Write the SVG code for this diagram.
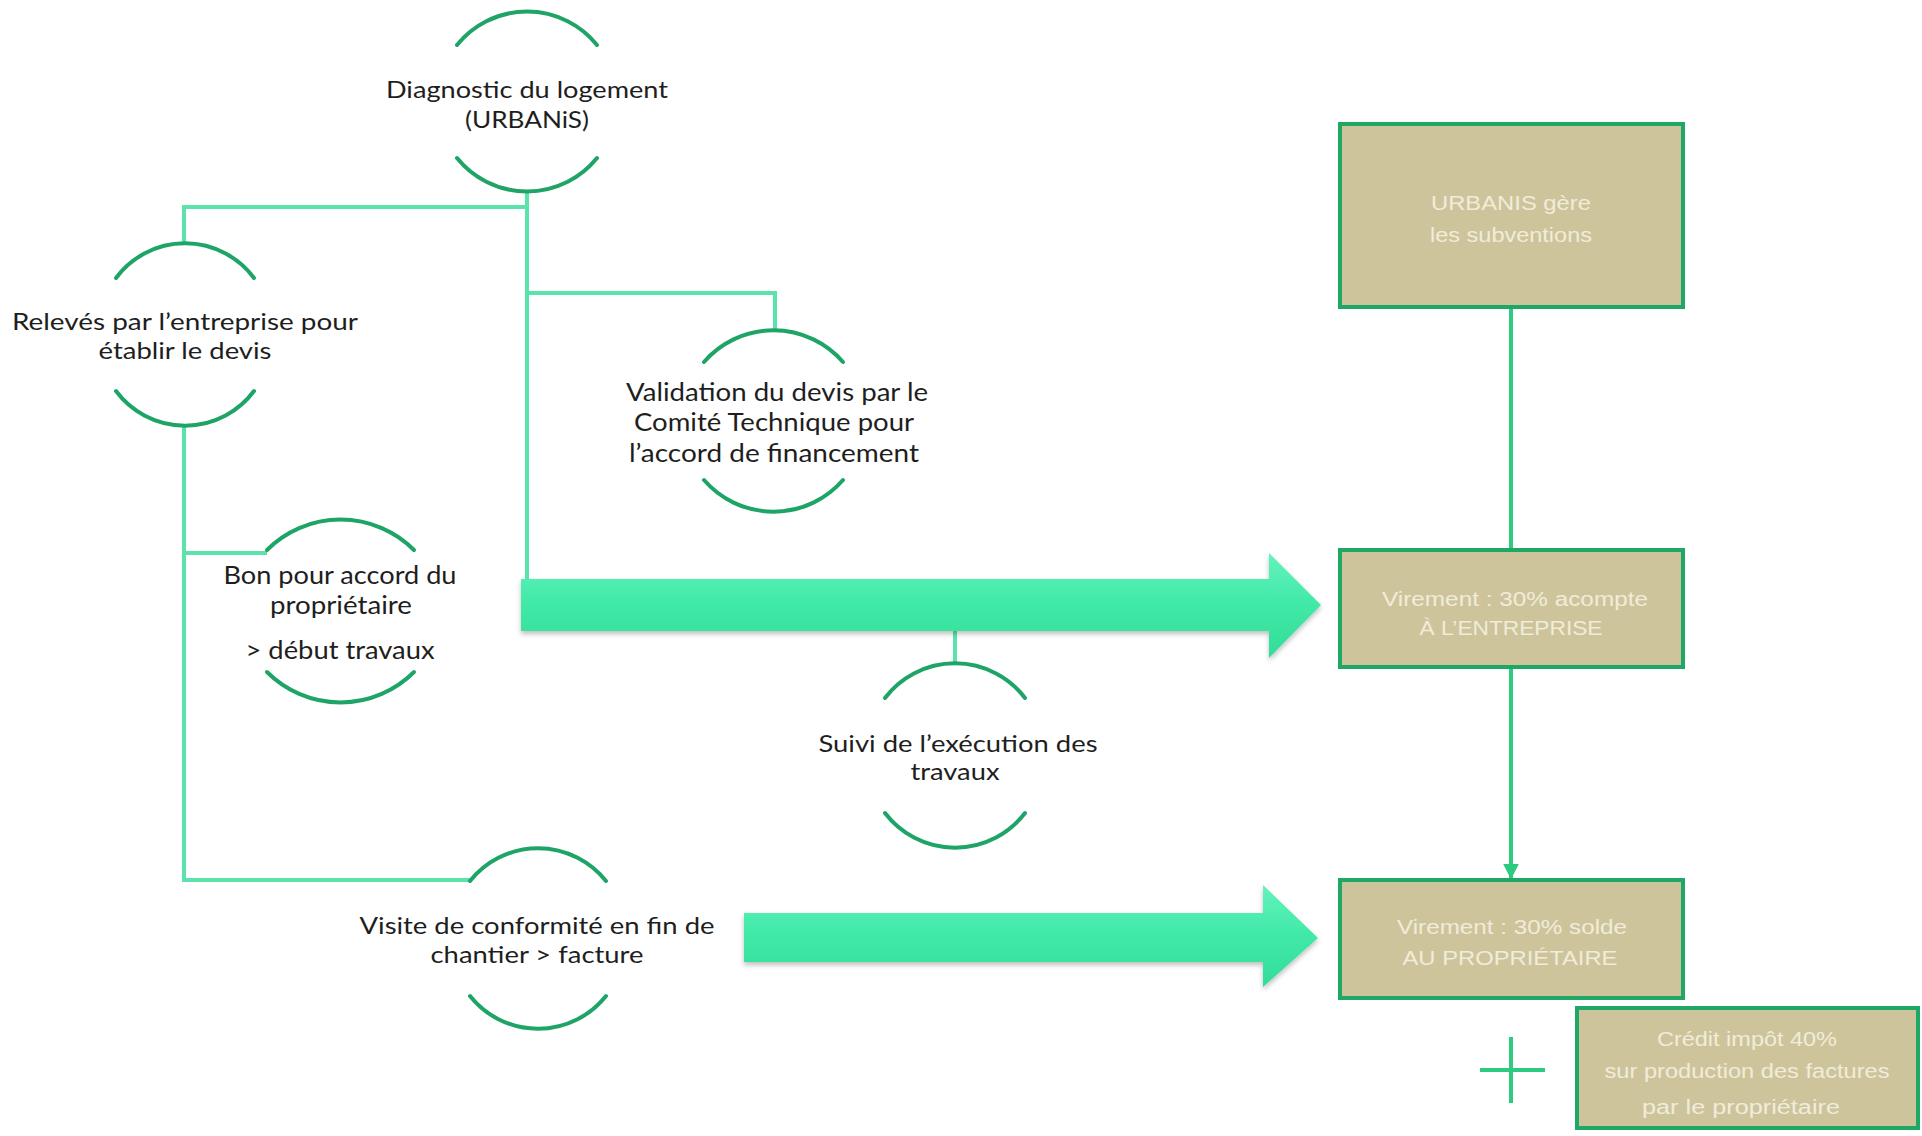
<svg xmlns="http://www.w3.org/2000/svg" width="1922" height="1136" viewBox="0 0 1922 1136">
<style>
.arc{fill:none;stroke:#1fa468;stroke-width:4;stroke-linecap:round}
.con{fill:none;stroke:#5ce3ac;stroke-width:4}
.rcon{fill:none;stroke:#2ccb80;stroke-width:4}
.lbl{font-family:Lato,"Open Sans","Liberation Sans",sans-serif;fill:#1e1e1e;text-anchor:middle}
.box{fill:#cec49c;stroke:#1fa865;stroke-width:4}
.btx{font-family:"Liberation Sans",Arial,sans-serif;font-size:20px;fill:#f1ecd9;text-anchor:middle}
.arrow{fill:url(#ag);filter:url(#sh)}
</style>
<defs>
<linearGradient id="ag" x1="0" y1="0" x2="0" y2="1">
<stop offset="0" stop-color="#66f2bf"/>
<stop offset="0.45" stop-color="#42eaa8"/>
<stop offset="1" stop-color="#33dc98"/>
</linearGradient>
<filter id="sh" x="-5%" y="-20%" width="110%" height="150%">
<feDropShadow dx="0" dy="3" stdDeviation="2.5" flood-color="#000" flood-opacity="0.25"/>
</filter>
<marker id="ah" viewBox="0 0 10 10" refX="9" refY="5" markerWidth="4" markerHeight="4" orient="auto">
<path d="M0,0 L10,5 L0,10 z" fill="#2ccb80"/>
</marker>
</defs>
<rect width="1922" height="1136" fill="#ffffff"/>

<g id="connectors">
<path class="con" d="M184 243 V207 H527"/>
<path class="con" d="M527 193 V579"/>
<path class="con" d="M527 293 H775 V330"/>
<path class="con" d="M184 426 V880 H470"/>
<path class="con" d="M184 553 H267"/>
<path class="con" d="M955 631 V663"/>
<path class="rcon" d="M1511 307 V550"/>
<path class="rcon" d="M1511 667 V878" marker-end="url(#ah)"/>
<polygon class="arrow" points="521,579 1269,579 1269,553 1321,605 1269,658 1269,631 521,631"/>
<polygon class="arrow" points="744,913 1263,913 1263,885 1318,938 1263,987 1263,962 744,962"/>
</g>

<g id="node-diagnostic">
<path class="arc" d="M457 45 A90 90 0 0 1 597 45"/>
<path class="arc" d="M457 158 A90 90 0 0 0 597 158"/>
<text class="lbl" font-size="24" x="527" y="98" textLength="282" lengthAdjust="spacingAndGlyphs">Diagnostic du logement</text>
<text class="lbl" font-size="24" x="527" y="128" textLength="124" lengthAdjust="spacingAndGlyphs">(URBANiS)</text>
</g>

<g id="node-releves">
<path class="arc" d="M116 278 A86 86 0 0 1 254 278"/>
<path class="arc" d="M116 391 A86 86 0 0 0 254 391"/>
<text class="lbl" font-size="24" x="185" y="330" textLength="346" lengthAdjust="spacingAndGlyphs">Relevés par l’entreprise pour</text>
<text class="lbl" font-size="24" x="185" y="359" textLength="173" lengthAdjust="spacingAndGlyphs">établir le devis</text>
</g>

<g id="node-validation">
<path class="arc" d="M704 362 A92 92 0 0 1 843 362"/>
<path class="arc" d="M704 480 A92 92 0 0 0 843 480"/>
<text class="lbl" font-size="25" x="777" y="401" textLength="302" lengthAdjust="spacingAndGlyphs">Validation du devis par le</text>
<text class="lbl" font-size="25" x="774" y="431" textLength="280" lengthAdjust="spacingAndGlyphs">Comité Technique pour</text>
<text class="lbl" font-size="25" x="774" y="462" textLength="290" lengthAdjust="spacingAndGlyphs">l’accord de financement</text>
</g>

<g id="node-bon">
<path class="arc" d="M267 550 A104 104 0 0 1 414 550"/>
<path class="arc" d="M267 672 A104 104 0 0 0 414 672"/>
<text class="lbl" font-size="25" x="340" y="584" textLength="233" lengthAdjust="spacingAndGlyphs">Bon pour accord du</text>
<text class="lbl" font-size="25" x="341" y="614" textLength="142" lengthAdjust="spacingAndGlyphs">propriétaire</text>
<text class="lbl" font-size="25" x="340" y="659" textLength="189" lengthAdjust="spacingAndGlyphs">&gt; début travaux</text>
</g>

<g id="node-suivi">
<path class="arc" d="M885 698 A88 88 0 0 1 1025 698"/>
<path class="arc" d="M885 813 A88 88 0 0 0 1025 813"/>
<text class="lbl" font-size="24" x="958" y="752" textLength="279" lengthAdjust="spacingAndGlyphs">Suivi de l’exécution des</text>
<text class="lbl" font-size="24" x="955" y="780" textLength="89" lengthAdjust="spacingAndGlyphs">travaux</text>
</g>

<g id="node-visite">
<path class="arc" d="M470 881 A87 87 0 0 1 606 881"/>
<path class="arc" d="M470 996 A87 87 0 0 0 606 996"/>
<text class="lbl" font-size="24" x="537" y="934" textLength="355" lengthAdjust="spacingAndGlyphs">Visite de conformité en fin de</text>
<text class="lbl" font-size="24" x="537" y="963" textLength="213" lengthAdjust="spacingAndGlyphs">chantier &gt; facture</text>
</g>

<g id="box-urbanis">
<rect class="box" x="1340" y="124" width="343" height="183"/>
<text class="btx" x="1511" y="210" textLength="160" lengthAdjust="spacingAndGlyphs">URBANIS gère</text>
<text class="btx" x="1511" y="242" textLength="162" lengthAdjust="spacingAndGlyphs">les subventions</text>
</g>

<g id="box-acompte">
<rect class="box" x="1340" y="550" width="343" height="117"/>
<text class="btx" x="1515" y="606" textLength="266" lengthAdjust="spacingAndGlyphs">Virement : 30% acompte</text>
<text class="btx" x="1511" y="635" textLength="183" lengthAdjust="spacingAndGlyphs">À L’ENTREPRISE</text>
</g>

<g id="box-solde">
<rect class="box" x="1340" y="880" width="343" height="118"/>
<text class="btx" x="1512" y="934" textLength="230" lengthAdjust="spacingAndGlyphs">Virement : 30% solde</text>
<text class="btx" x="1510" y="965" textLength="215" lengthAdjust="spacingAndGlyphs">AU PROPRIÉTAIRE</text>
</g>

<g id="plus">
<path d="M1480 1070 H1545 M1511 1037 V1103" fill="none" stroke="#2ccb80" stroke-width="4"/>
</g>

<g id="box-credit">
<rect class="box" x="1577" y="1008" width="341" height="120"/>
<text class="btx" x="1747" y="1046" textLength="180" lengthAdjust="spacingAndGlyphs">Crédit impôt 40%</text>
<text class="btx" x="1747" y="1078" textLength="285" lengthAdjust="spacingAndGlyphs">sur production des factures</text>
<text class="btx" x="1741" y="1114" textLength="198" lengthAdjust="spacingAndGlyphs">par le propriétaire</text>
</g>
</svg>
